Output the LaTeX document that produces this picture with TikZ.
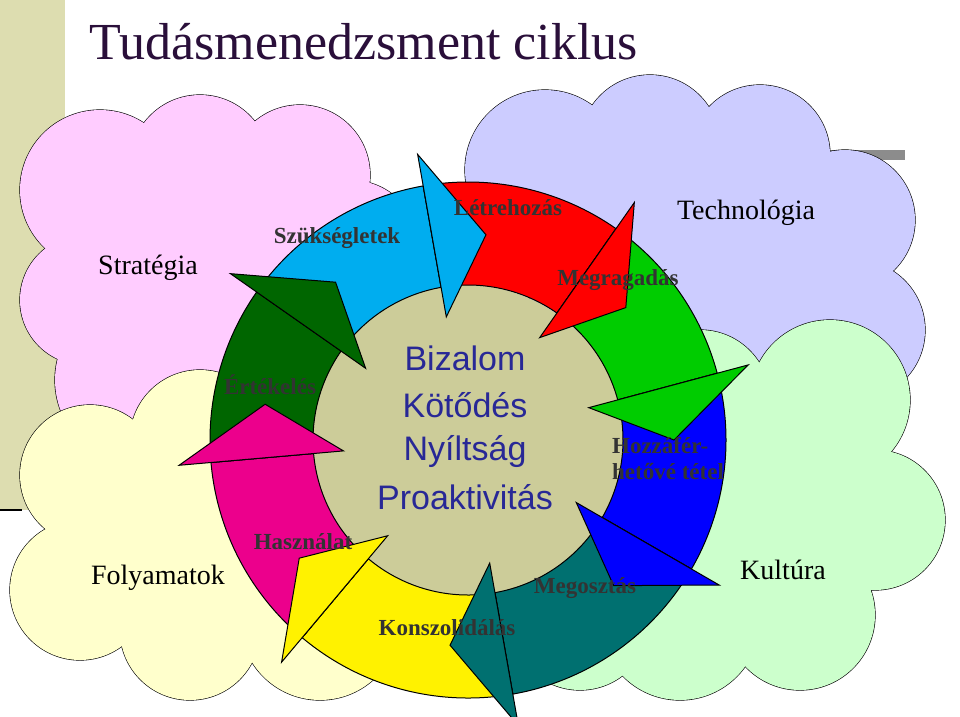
\documentclass[tikz,border=0pt]{standalone}
\usepackage{fontspec}
\setmainfont{Liberation Serif}
\setsansfont{Liberation Sans}
\usetikzlibrary{calc}
\definecolor{pinkc}{HTML}{FFCCFF}
\definecolor{lavc}{HTML}{CCCCFF}
\definecolor{greenc}{HTML}{CCFFCC}
\definecolor{yellowc}{HTML}{FFFFCC}
\definecolor{khaki}{HTML}{CCCC99}
\definecolor{strip}{HTML}{DDDDB0}
\definecolor{titlec}{HTML}{2A0F3A}
\definecolor{tealc}{HTML}{007070}
\definecolor{dkgreen}{HTML}{006600}
\newcommand{\cloud}[2]{%
  \foreach \cx/\cy/\cr in {#2}
    \draw[line width=1.2pt] (\cx,\cy) circle[radius=\cr];
  \foreach \cx/\cy/\cr in {#2}
    \fill[#1] (\cx,\cy) circle[radius=\cr];}
\begin{document}
\begin{tikzpicture}
  [x=1pt,y=-1pt,
   cloudlabel/.style={font=\fontsize{28}{31}\selectfont},
   ringlabel/.style={font=\bfseries\fontsize{23}{26}\selectfont,text=black!80},
   centerlabel/.style={font=\sffamily\fontsize{34}{38}\selectfont,text={rgb,255:red,40;green,40;blue,150}},
   sector/.style={draw=black,line width=1pt}]
  \useasboundingbox (0,0) rectangle (960,716);
  \fill[white] (0,0) rectangle (960,716);
  % background strip and title
  \fill[strip] (0,0) rectangle (65,510);
  \draw[line width=2pt] (0,510) -- (22,510);
  \draw[line width=1.5pt,black!80] (45,155) -- (255,155);
  \fill[black!45] (830,150) rectangle (905,160);
  \node[anchor=west,font=\fontsize{52}{56}\selectfont,text=titlec] (title) at (86,42) {Tudásmenedzsment ciklus};
  % clouds
  \cloud{pinkc}{100/190/80,200/165/70,300/175/70,85/300/65,140/380/85,260/300/100,350/250/70,300/400/70,170/260/90}
  \cloud{lavc}{545/170/80,650/145/70,760/155/70,845/220/70,855/330/70,760/355/70,640/300/110,740/250/95}
  \cloud{greenc}{600/450/90,700/400/70,830/400/80,875/520/70,800/615/75,680/620/80,580/620/70,770/510/100}
  \cloud{yellowc}{90/475/70,200/440/70,330/470/80,80/590/70,190/630/70,320/620/80,180/545/95}
  % centre
  \coordinate (C) at (468,440);
  \fill[khaki] (465,445) circle[radius=160];
  % ring sectors
  \foreach \a/\b/\col in {-145/-100/cyan,-100/-55/red,-55/-15/green!80!black,-15/30/blue,
                          30/80/tealc,80/130/yellow,130/175/magenta,175/215/dkgreen}
    \filldraw[sector,fill=\col] ($(C)+(\a:258)$) arc[start angle=\a,end angle=\b,radius=258]
      -- ($(C)+(\b:155)$) arc[start angle=\b,end angle=\a,radius=155] -- cycle;
  % arrow heads
  \foreach \b/\col in {-100/cyan,-55/red,-15/green!80!black,30/blue,
                       80/tealc,130/yellow,175/magenta,215/dkgreen}
    \filldraw[sector,fill=\col] ($(C)+(\b:125)$) -- ($(C)+(\b:290)$)
      -- ($(C)+(\b+15:206)$) -- cycle;
  % labels
  \node[cloudlabel] (strat) at (148,268) {Stratégia};
  \node[cloudlabel] (tech) at (746,213) {Technológia};
  \node[cloudlabel] (folyam) at (158,578) {Folyamatok};
  \node[cloudlabel] (kult) at (783,570) {Kultúra};
  \node[ringlabel] (szuks) at (337,238) {Szükségletek};
  \node[ringlabel] (letre) at (508,208) {Létrehozás};
  \node[ringlabel] (megrag) at (618,280) {Megragadás};
  \node[ringlabel] (ertek) at (270,385) {Értékelés};
  \node[ringlabel] (haszn) at (303,542) {Használat};
  \node[ringlabel,align=left] (hozza) at (668,459) {Hozzáfér-\\hetővé tétel};
  \node[ringlabel] (megoszt) at (585,588) {Megosztás};
  \node[ringlabel] (konsz) at (447,628) {Konszolidálás};
  \node[centerlabel] (biz) at (465,358) {Bizalom};
  \node[centerlabel] (kot) at (465,405) {Kötődés};
  \node[centerlabel] (nyil) at (465,451) {Nyíltság};
  \node[centerlabel] (proakt) at (465,497) {Proaktivitás};
\end{tikzpicture}
\end{document}
